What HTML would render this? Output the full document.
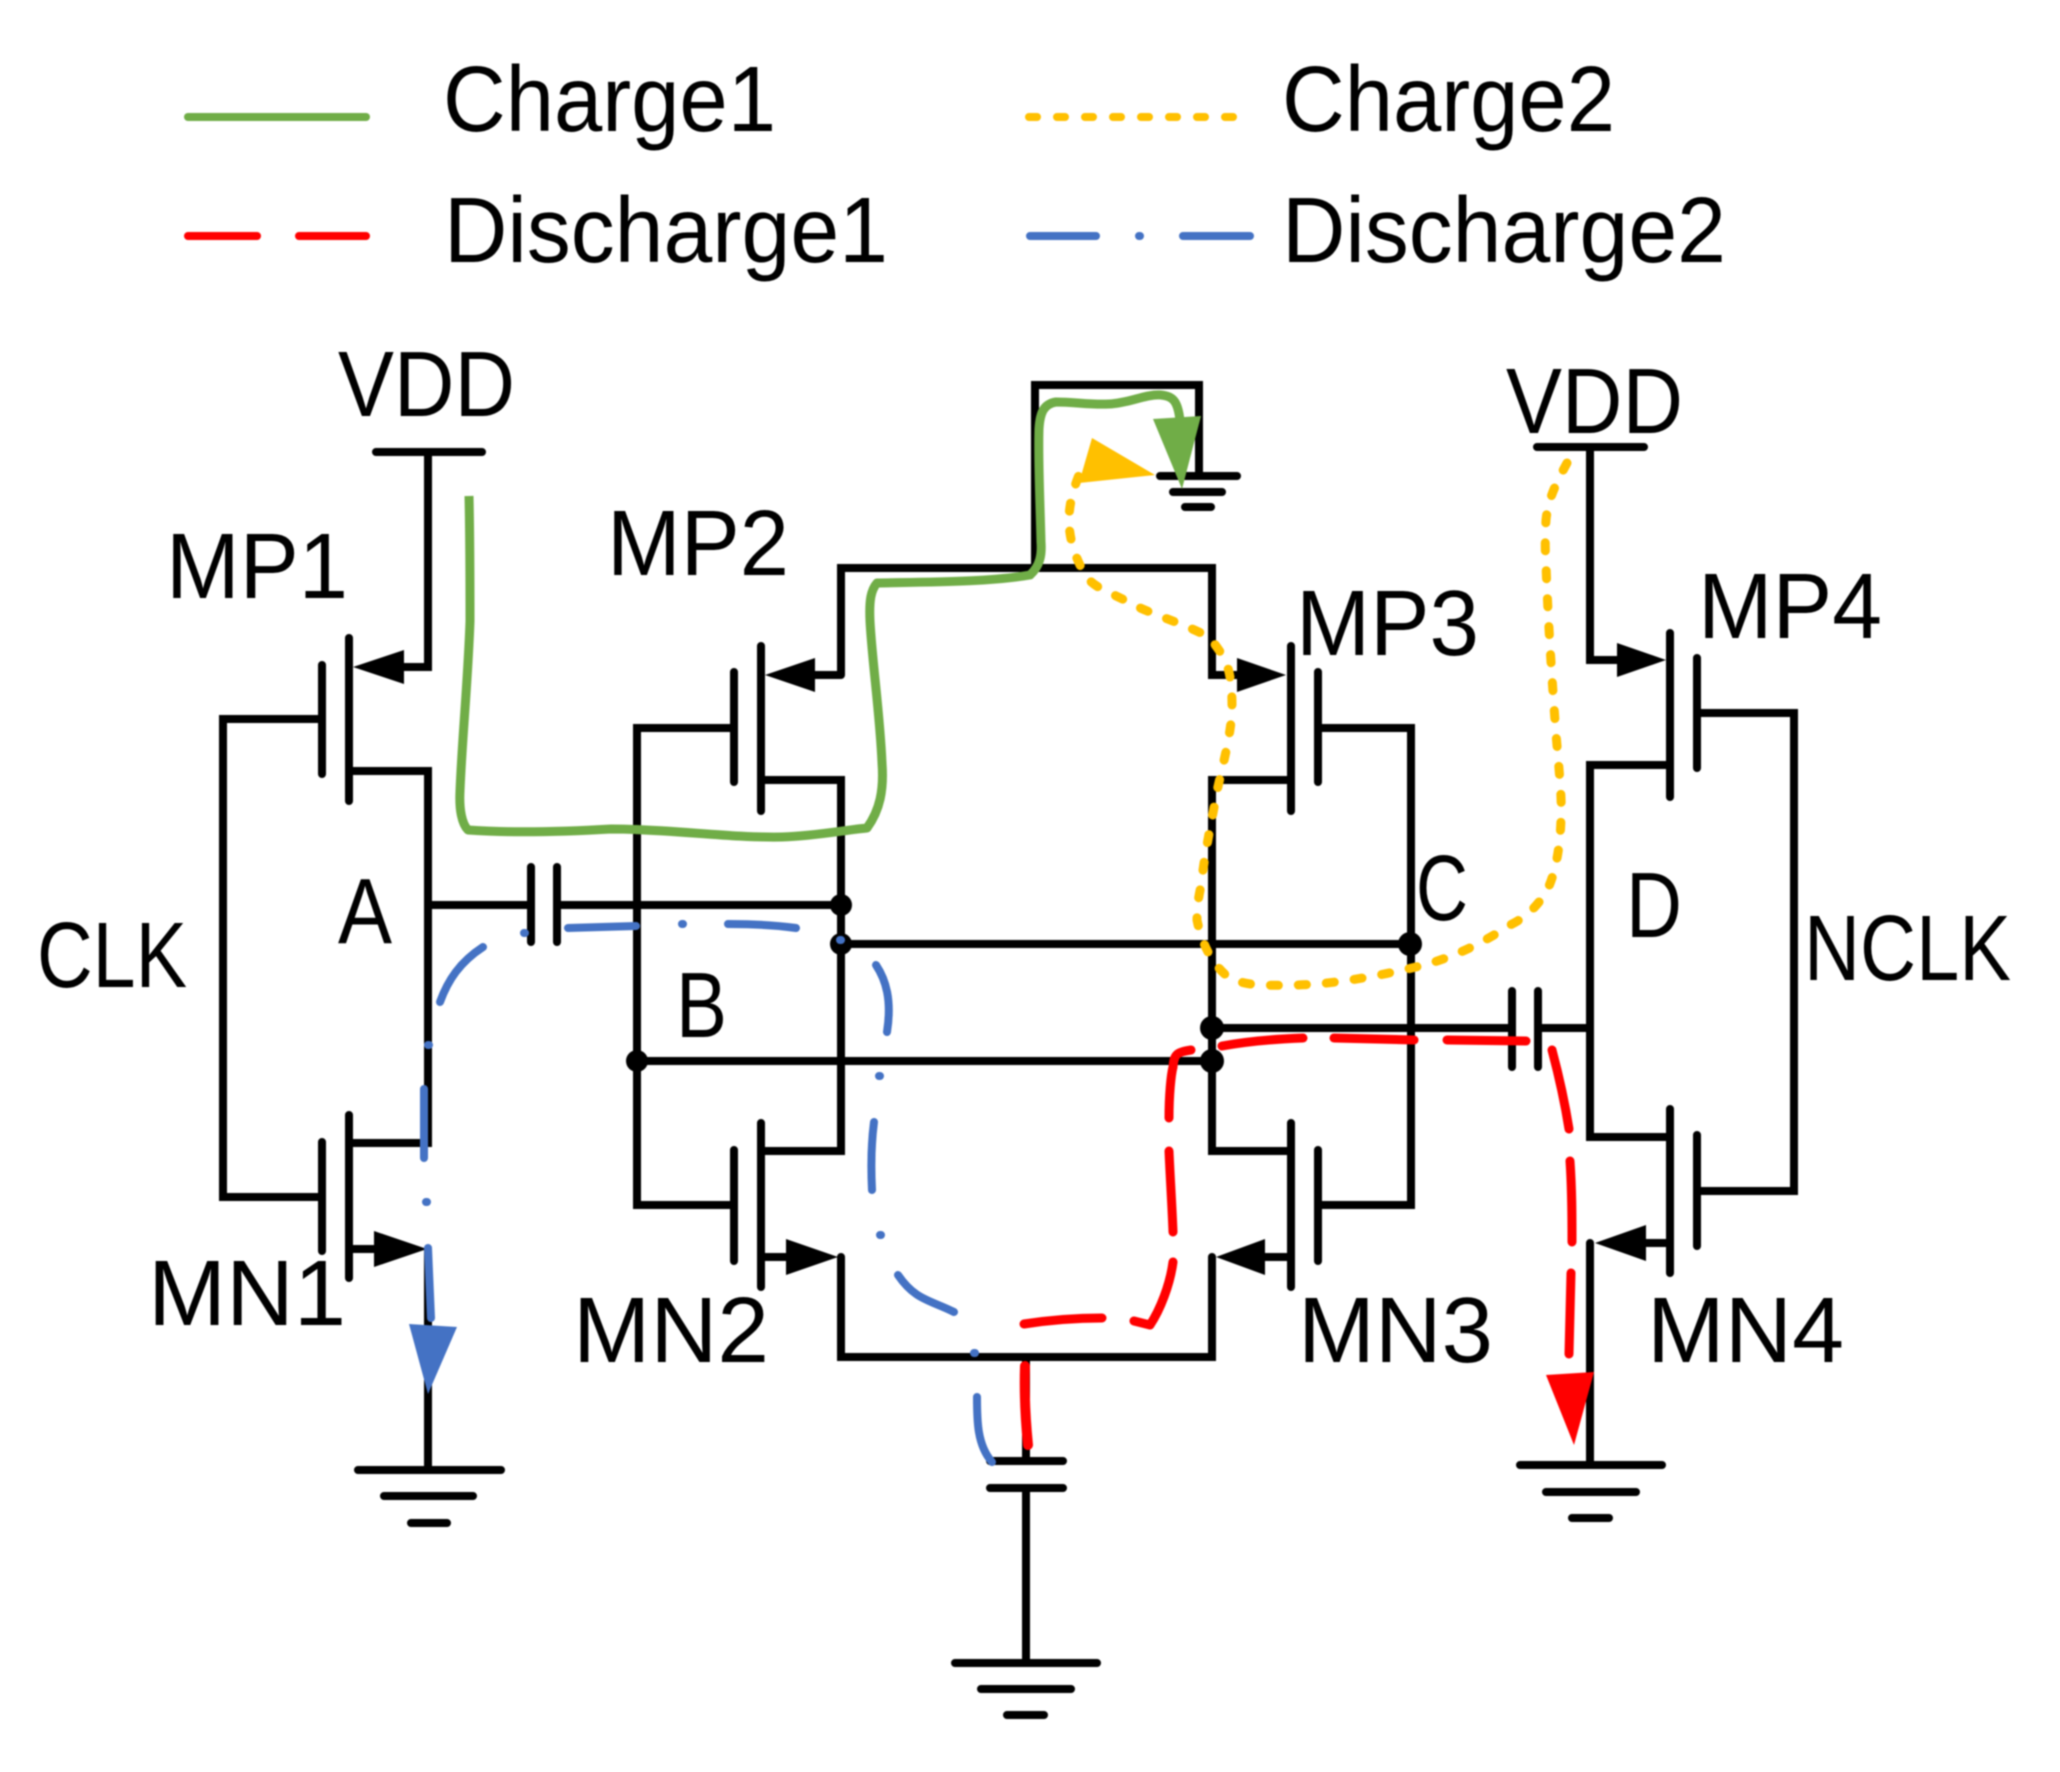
<!DOCTYPE html>
<html><head><meta charset="utf-8"><style>html,body{margin:0;padding:0;background:#fff}svg{display:block}
text{font-family:"Liberation Sans",sans-serif;font-size:93px;fill:#000}
#all{filter:blur(0.7px)}</style></head><body>
<svg width="2060" height="1772" viewBox="0 0 2060 1772" xmlns="http://www.w3.org/2000/svg">
<rect width="2060" height="1772" fill="#fff"/>
<g id="all">
<g>
<text x="443" y="131" textLength="333" lengthAdjust="spacingAndGlyphs">Charge1</text>
<text x="444" y="262" textLength="444" lengthAdjust="spacingAndGlyphs">Discharge1</text>
<text x="1282" y="131" textLength="333" lengthAdjust="spacingAndGlyphs">Charge2</text>
<text x="1282" y="262" textLength="444" lengthAdjust="spacingAndGlyphs">Discharge2</text>
<text x="338" y="416" textLength="177" lengthAdjust="spacingAndGlyphs">VDD</text>
<text x="1506" y="433" textLength="177" lengthAdjust="spacingAndGlyphs">VDD</text>
<text x="166" y="598" textLength="182" lengthAdjust="spacingAndGlyphs">MP1</text>
<text x="607" y="575" textLength="182" lengthAdjust="spacingAndGlyphs">MP2</text>
<text x="1296" y="655" textLength="183" lengthAdjust="spacingAndGlyphs">MP3</text>
<text x="1698" y="638" textLength="184" lengthAdjust="spacingAndGlyphs">MP4</text>
<text x="338" y="943" textLength="54" lengthAdjust="spacingAndGlyphs">A</text>
<text x="37" y="987" textLength="150" lengthAdjust="spacingAndGlyphs">CLK</text>
<text x="676" y="1037" textLength="51" lengthAdjust="spacingAndGlyphs">B</text>
<text x="148" y="1325" textLength="198" lengthAdjust="spacingAndGlyphs">MN1</text>
<text x="573" y="1362" textLength="196" lengthAdjust="spacingAndGlyphs">MN2</text>
<text x="1416" y="920" textLength="52" lengthAdjust="spacingAndGlyphs">C</text>
<text x="1626" y="937" textLength="56" lengthAdjust="spacingAndGlyphs">D</text>
<text x="1804" y="980" textLength="207" lengthAdjust="spacingAndGlyphs">NCLK</text>
<text x="1298" y="1362" textLength="195" lengthAdjust="spacingAndGlyphs">MN3</text>
<text x="1647" y="1362" textLength="197" lengthAdjust="spacingAndGlyphs">MN4</text>
</g>
<g fill="none" stroke-linecap="round" stroke-width="8">
<path d="M188 117H366" stroke="#70ad47"/>
<path d="M1029 117H1238" stroke="#ffc000" stroke-width="8" stroke-dasharray="8 20"/>
<path d="M188 236H257M299 236H366" stroke="#ff0000"/>
<path d="M1030 236H1096M1139 236h1M1183 236H1250" stroke="#4472c4"/>
</g>
<g fill="none" stroke="#000" stroke-width="8" stroke-linecap="round" stroke-linejoin="miter">
<path d="M376 452H482M428 452V667H404M349 638V801M322 665V774M322 719H223V1197H322M349 771H428V1143H349M349 1115V1278M322 1142V1251M349 1249H376M428 1249V1470M358 1470H501M384 1496H473M411 1523H447"/>
<path d="M428 905H531M531 867V942M557 867V942M557 905H841"/>
<path d="M1035 568V385H1199V476M1160 476H1237M1173 492H1222M1185 507H1211"/>
<path d="M841 675V568H1212V675H1238M841 675H815M761 646V811M734 672V782M734 728H637V1205H734M761 780H841V1151H761M761 1123V1287M734 1150V1261M761 1257H788M841 1257V1357H1212V1257M1291 1257H1264"/>
<path d="M1291 646V811M1318 672V782M1318 728H1411V1205H1318M1291 780H1212V1151H1291M1291 1123V1287M1318 1150V1261"/>
<path d="M1537 447H1644M1590 447V660H1618M1670 633V797M1697 658V768M1697 713H1794V1191H1697M1670 765H1590V1137H1670M1670 1109V1273M1697 1135V1246M1670 1243H1645M1590 1243V1465M1520 1465H1662M1546 1492H1636M1572 1518H1609"/>
<path d="M637 1061H1212M841 944H1410M1212 1028H1512M1512 991V1067M1538 991V1067M1538 1028H1590"/>
<path d="M1026 1357V1461M990 1461H1063M990 1488H1063M1026 1488V1663M955 1663H1097M981 1689H1071M1007 1715H1044"/>
</g>
<g fill="#000">
<circle cx="841" cy="905" r="11"/><circle cx="841" cy="944" r="11"/><circle cx="637" cy="1061" r="11"/><circle cx="1212" cy="1061" r="12"/><circle cx="1212" cy="1028" r="12"/><circle cx="1410" cy="944" r="12"/>
<polygon points="353,667 404,650 404,684"/>
<polygon points="427,1249 374,1231 374,1267"/>
<polygon points="765,675 815,658 815,692"/>
<polygon points="838,1257 786,1239 786,1275"/>
<polygon points="1286,675 1237,658 1237,692"/>
<polygon points="1216,1257 1265,1239 1265,1275"/>
<polygon points="1666,660 1617,643 1617,677"/>
<polygon points="1595,1243 1646,1225 1646,1261"/>
</g>
<path fill="none" stroke="#70ad47" stroke-width="9" stroke-linejoin="round" d="M469 496C470 540 470 590 470 621C468 680 462 740 460 791C459 810 462 824 468 830C510 833 560 832 611 829C670 829 730 838 782 837C815 836 845 830 867 828C880 810 884 790 882 763C880 715 872 660 870 621C869 600 871 590 877 583C930 582 990 582 1030 575C1040 566 1042 555 1041 542C1040 500 1038 460 1039 429C1040 412 1044 404 1056 402C1075 402 1090 405 1109 404C1130 403 1145 394 1161 395C1172 396 1178 400 1180 421"/>
<polygon fill="#70ad47" points="1153,419 1201,416 1182,489"/>
<path fill="none" stroke="#ffc000" stroke-width="9" stroke-dasharray="8 20" stroke-linecap="round" d="M1567 463C1555 485 1548 500 1546 520C1545 535 1545 550 1546 565C1548 620 1552 680 1556 734C1560 780 1562 800 1561 819C1560 850 1555 872 1549 886C1540 905 1525 918 1510 925C1480 945 1450 958 1424 965C1380 976 1330 985 1293 985C1260 986 1240 985 1227 976C1210 962 1201 940 1197 920C1197 905 1199 895 1201 886C1205 850 1212 820 1217 791C1224 760 1232 730 1232 706C1232 685 1230 670 1224 658C1218 648 1212 640 1207 636C1180 622 1150 614 1128 602C1110 592 1094 588 1086 576C1076 560 1069 540 1069 520C1069 505 1073 490 1079 475"/>
<polygon fill="#ffc000" points="1092,438 1155,475 1079,483"/>
<g fill="none" stroke="#4472c4" stroke-width="8" stroke-linecap="round" stroke-linejoin="round">
<path d="M483 947C460 962 448 980 440 1002"/>
<path d="M524 933h1M568 928L636 926M682 924h1M728 924C750 924 775 925 796 928M840 940h1"/>
<path d="M876 965C886 980 892 1000 887 1032M879 1076h1M874 1122C871 1145 871 1170 872 1190M880 1235h1"/>
<path d="M898 1275C915 1300 930 1300 954 1312M974 1353h1M977 1397C977 1420 977 1445 992 1462"/>
<path d="M428 1045h1M424 1089L424 1158M426 1202h1M428 1248L431 1318"/>
</g>
<polygon fill="#4472c4" points="409,1324 457,1327 428,1394"/>
<g fill="none" stroke="#ff0000" stroke-width="9" stroke-linecap="round" stroke-linejoin="round">
<path d="M1025 1366C1024 1395 1026 1425 1028 1445" stroke-width="10"/>
<path d="M1024 1324C1050 1320 1080 1318 1102 1318"/>
<path d="M1134 1321L1150 1325C1160 1310 1170 1285 1173 1262"/>
<path d="M1173 1232C1172 1205 1170 1175 1169 1151"/>
<path d="M1169 1118C1169 1095 1171 1075 1173 1067C1174 1055 1176 1052 1191 1050"/>
<path d="M1222 1046C1250 1041 1275 1039 1303 1038"/>
<path d="M1334 1038L1414 1040M1447 1040L1526 1041"/>
<path d="M1552 1050C1560 1080 1566 1110 1569 1129"/>
<path d="M1570 1161C1572 1190 1572 1215 1572 1242M1571 1273L1569 1354"/>
</g>
<polygon fill="#ff0000" points="1546,1375 1594,1372 1574,1445"/>
</g>
</svg>
</body></html>
